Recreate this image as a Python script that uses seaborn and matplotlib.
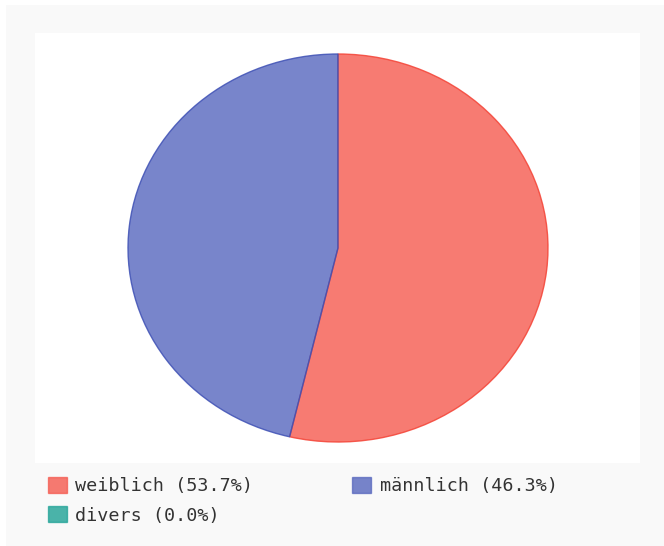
import matplotlib
matplotlib.use("Agg")
import matplotlib.pyplot as plt
import seaborn as sns
from matplotlib.patches import Rectangle, Patch
from matplotlib.colors import to_rgba

categories = ["weiblich", "männlich", "divers"]
values = [53.7, 46.3, 0.0]
base_colors = ["#f44336", "#3f51b5", "#009688"]

sns.set_theme(style="white")
plt.rcParams['font.family'] = ['DejaVu Sans Mono', 'DejaVu Sans']

W, H = 664, 546
fig = plt.figure(figsize=(W / 100, H / 100), dpi=100, facecolor="white")

def fx(x):
    return x / W

def fy(y):
    return 1 - y / H

# outer light-gray panel
fig.patches.append(Rectangle((fx(6), -0.01), 1.02 - fx(6), fy(5) + 0.01, transform=fig.transFigure,
                             facecolor="#f9f9f9", edgecolor="none", zorder=-2))
# white plot area
fig.patches.append(Rectangle((fx(35), fy(463)), fx(640) - fx(35), fy(33) - fy(463),
                             transform=fig.transFigure, facecolor="white",
                             edgecolor="none", zorder=-1))

# pie axes covering the ellipse bounding box
x0, x1, y0, y1 = 128, 548, 54, 442
ax = fig.add_axes([fx(x0), fy(y1), fx(x1) - fx(x0), fy(y0) - fy(y1)])
ax.set_zorder(2)
ax.set_facecolor("none")
fills = [to_rgba(c, 0.7) for c in base_colors]
wedges, _ = ax.pie(values, colors=fills, startangle=90, counterclock=False,
                   radius=1, wedgeprops=dict(linewidth=1.0))
for w, c, v in zip(wedges, base_colors, values):
    w.set_edgecolor(to_rgba(c, 0.85) if v > 0 else "none")
    if v <= 0:
        w.set_linewidth(0)
ax.set_aspect("auto")
ax.set_xlim(-1, 1)
ax.set_ylim(-1, 1)
ax.axis("off")

labels = [f"{c} ({v:.1f}%)" for c, v in zip(categories, values)]
handles = [Patch(facecolor=f, edgecolor=to_rgba(c, 0.6), linewidth=1.0, label=l)
           for f, c, l in zip(fills, base_colors, labels)]
order = [0, 2, 1]
leg = fig.legend([handles[i] for i in order], [labels[i] for i in order],
                 loc="upper left", bbox_to_anchor=(fx(48), fy(477)),
                 ncol=2, frameon=False, fontsize=13.2,
                 handlelength=1.04, handleheight=0.93, handletextpad=0.45,
                 labelspacing=0.62, columnspacing=5.4, borderpad=0, borderaxespad=0)
leg.set_zorder(3)
for t in leg.get_texts():
    t.set_color("#333333")

fig.savefig("out.png", dpi=100, facecolor="white")
